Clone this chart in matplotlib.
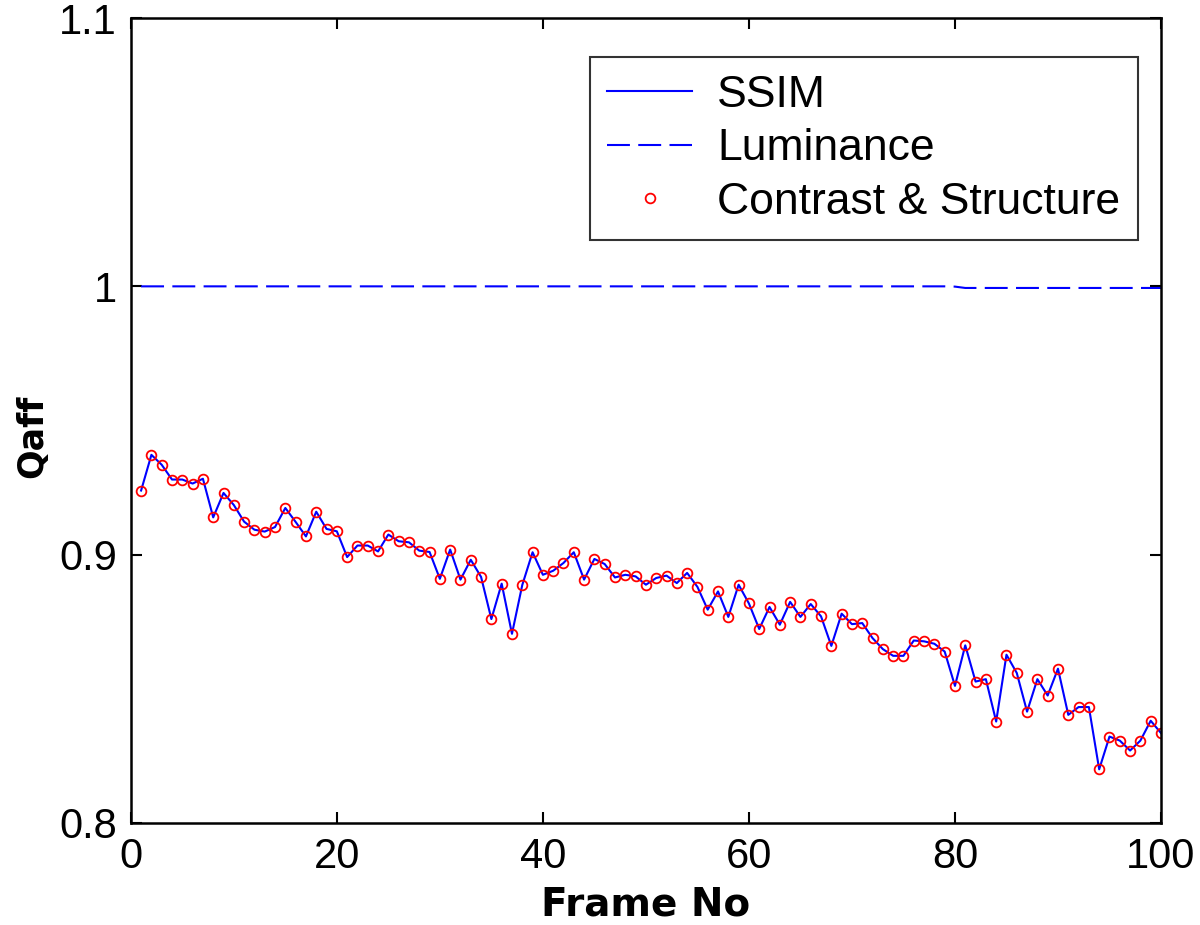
import numpy as np
import matplotlib
matplotlib.use('Agg')
import matplotlib.pyplot as plt

# frame numbers 1..100
frames = list(range(1, 101))

# contrast & structure values (SSIM follows the same curve)
contrast_structure = [
    0.9239, 0.9372, 0.9335, 0.9280, 0.9280, 0.9265, 0.9283, 0.9139, 0.9230, 0.9185,
    0.9123, 0.9093, 0.9086, 0.9103, 0.9174, 0.9122, 0.9068, 0.9160, 0.9096, 0.9087,
    0.8991, 0.9034, 0.9034, 0.9012, 0.9075, 0.9050, 0.9046, 0.9015, 0.9010, 0.8910,
    0.9019, 0.8907, 0.8981, 0.8917, 0.8760, 0.8892, 0.8705, 0.8887, 0.9009, 0.8925,
    0.8940, 0.8969, 0.9009, 0.8907, 0.8984, 0.8965, 0.8915, 0.8925, 0.8919, 0.8888,
    0.8913, 0.8922, 0.8894, 0.8932, 0.8880, 0.8795, 0.8863, 0.8768, 0.8888, 0.8818,
    0.8723, 0.8805, 0.8739, 0.8824, 0.8768, 0.8816, 0.8770, 0.8660, 0.8780, 0.8741,
    0.8745, 0.8689, 0.8648, 0.8623, 0.8623, 0.8680, 0.8677, 0.8668, 0.8639, 0.8511,
    0.8662, 0.8527, 0.8536, 0.8378, 0.8627, 0.8559, 0.8415, 0.8536, 0.8475, 0.8575,
    0.8403, 0.8432, 0.8432, 0.8200, 0.8322, 0.8307, 0.8270, 0.8307, 0.8381, 0.8335,
]
ssim = list(contrast_structure)

# luminance stays at ~1, a hair lower after frame 80
luminance = [1.0] * 79 + [0.9999] + [0.9994] * 20

plt.rcParams['font.family'] = ['Liberation Sans', 'DejaVu Sans']

fig = plt.figure(figsize=(12, 9.25), dpi=100)
ax = fig.add_axes([0.109, 0.1103, 0.8585, 0.8702])

ax.plot(frames, ssim, color='blue', linewidth=1.5, label='SSIM')
ax.plot(frames, luminance, color='blue', linewidth=1.5, dashes=(11, 4), label='Luminance')
ax.plot(frames, contrast_structure, linestyle='none', marker='o', markersize=7,
        markerfacecolor='none', markeredgecolor='red', markeredgewidth=1.3,
        label='Contrast & Structure')

ax.set_xlim(0, 100)
ax.set_ylim(0.8, 1.1)
ax.set_xticks([0, 20, 40, 60, 80, 100])
ax.set_yticks([0.8, 0.9, 1.0, 1.1])
ax.set_yticklabels(['0.8', '0.9', '1', '1.1'])
ax.tick_params(direction='in', length=8, width=1.5, labelsize=30,
               top=True, right=True, pad=10)
for s in ax.spines.values():
    s.set_linewidth(1.8)

ax.set_xlabel('Frame No', fontsize=28, fontweight='bold', family='DejaVu Sans', labelpad=6)
ax.set_ylabel('Qaff', fontsize=25, fontweight='bold', family='DejaVu Sans')
ax.yaxis.set_label_coords(-0.079, 0.48)

leg = ax.legend(loc='upper right', bbox_to_anchor=(0.9777, 0.9516), fontsize=32,
                frameon=True, fancybox=False, edgecolor='black', handlelength=1.9,
                borderaxespad=0, labelspacing=0.28, handletextpad=0.57, borderpad=0.4)
leg.get_frame().set_linewidth(1.5)

fig.savefig('out.png', dpi=100)
